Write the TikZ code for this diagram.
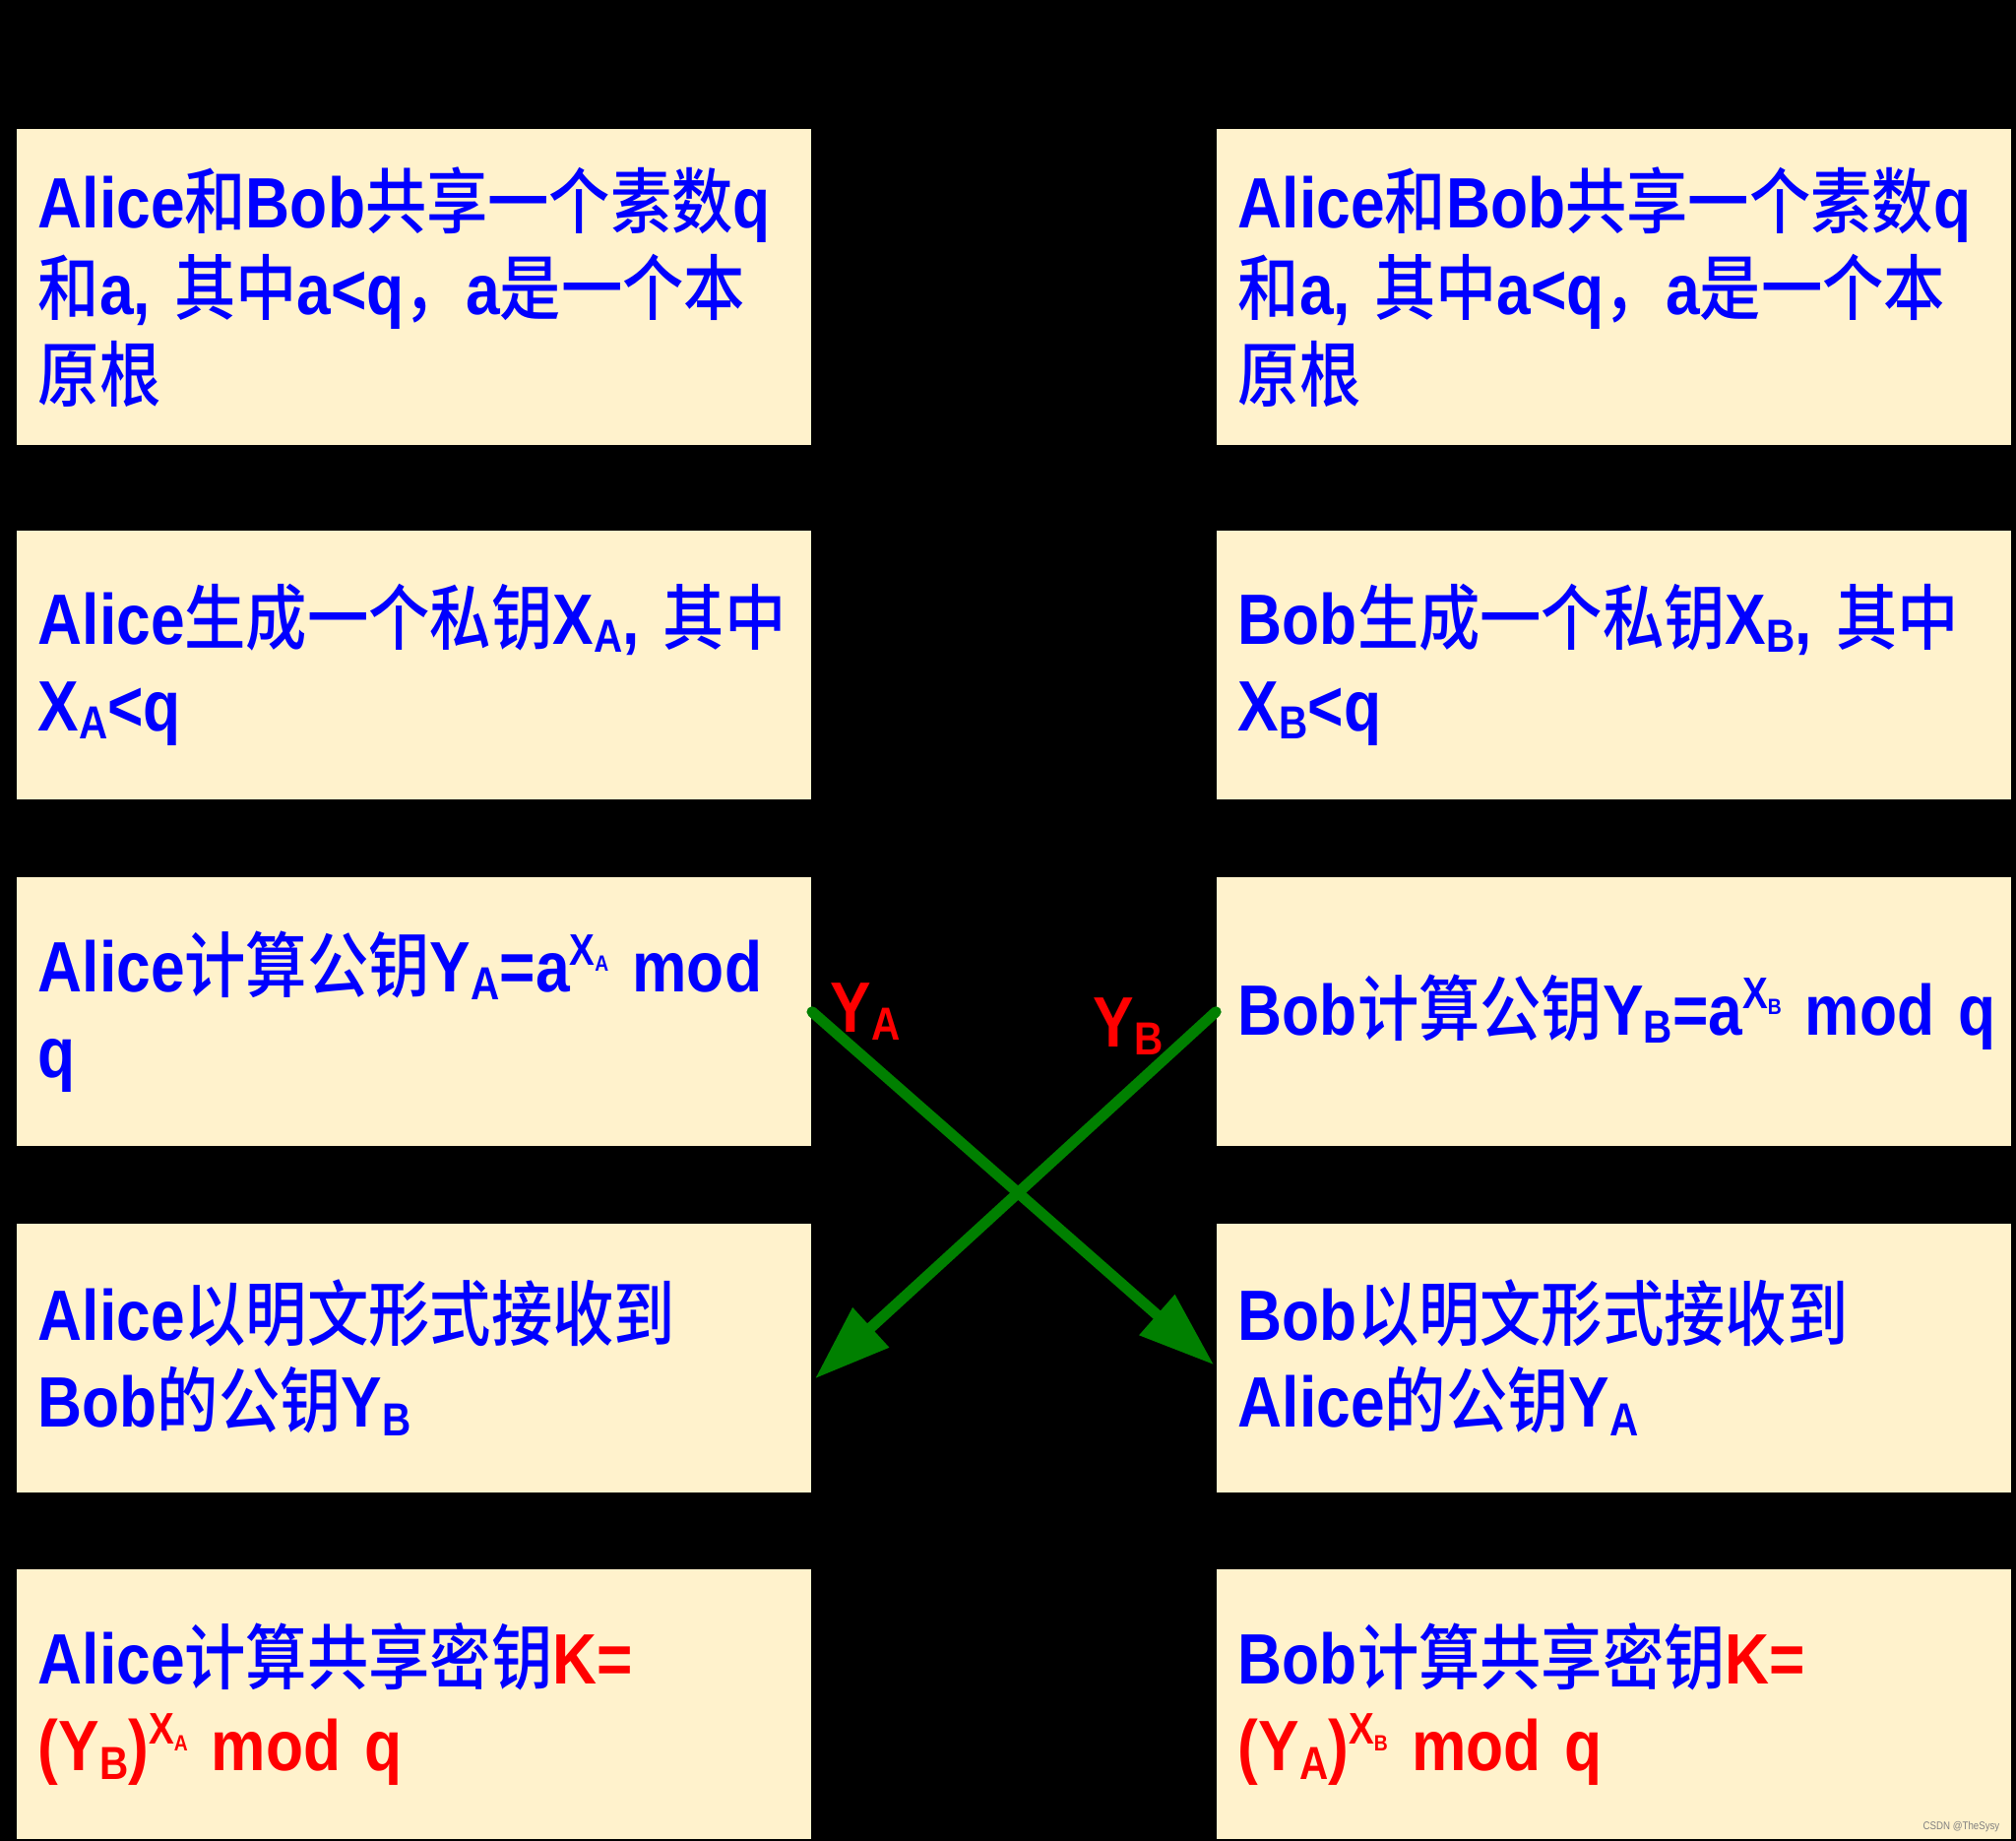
\documentclass[tikz,border=0pt]{standalone}
\usepackage{fontspec}
\usepackage{graphicx}
\usepackage{xcolor}
\usepackage{tikz}
\usetikzlibrary{positioning,calc,arrows.meta}

\setmainfont{Liberation Sans}[FakeStretch=0.86]
\newfontfamily\zhfont{Noto Sans CJK SC}[BoldFont={* Medium},FakeStretch=0.86]
\newcommand\bodyfont{\fontsize{20.6}{25}\selectfont\bfseries\fontdimen2\font=0.17em}
\newcommand\zh[1]{{\zhfont #1}}
\newcommand\dn[1]{\raisebox{-0.12em}{\scalebox{0.65}{#1}}}
\newcommand\up[1]{\raisebox{0.37em}{\scalebox{0.62}{#1}}}
\newcommand\powx[1]{\up{X\raisebox{-0.15em}{\scalebox{0.5}{#1}}}}

\definecolor{boxfill}{HTML}{FFF2CC}
\definecolor{txtblue}{HTML}{0000FF}
\definecolor{keyred}{HTML}{FF0000}
\definecolor{arrgreen}{HTML}{008000}

\tikzset{
  stepcell/.style={rectangle,fill=boxfill,text=txtblue,font=\bodyfont,
    text width=7.63cm,inner xsep=0.22cm,inner ysep=0pt,align=left,
    minimum width=8.07cm,minimum height=2.73cm},
  tallcell/.style={stepcell,minimum height=3.21cm},
  sendarrow/.style={draw=arrgreen,line width=0.11cm,line cap=round,
    -{Triangle[length=0.77cm,width=0.52cm]}},
  keylabel/.style={text=keyred,font=\bodyfont,inner sep=0pt,anchor=base west}
}

\begin{document}
\begin{tikzpicture}[x=0.01cm,y=-0.01cm]
  \useasboundingbox (0,0) rectangle (2048,1870);
  \fill[black] (0,0) rectangle (2048,1870);

  % Alice
  \node[tallcell] (A1) at (420.5,291.5)
    {Alice\zh{和}Bob\zh{共享一个素数}q\\ \zh{和}a,~\zh{其中}a<q\zh{，}a\zh{是一个本}\\ \zh{原根}};
  \node[stepcell] (A2) [below=0.85cm of A1]
    {Alice\zh{生成一个私钥}X\dn{A},~\zh{其中}\\ X\dn{A}<q};
  \node[stepcell] (A3) [below=0.78cm of A2]
    {Alice\zh{计算公钥}Y\dn{A}=a\powx{A}~mod\\ q};
  \node[stepcell] (A4) [below=0.77cm of A3]
    {Alice\zh{以明文形式接收到}\\ Bob\zh{的公钥}Y\dn{B}};
  \node[stepcell] (A5) [below=0.77cm of A4]
    {Alice\zh{计算共享密钥}\textcolor{keyred}{K=}\\ \textcolor{keyred}{(Y\dn{B})\powx{A}~mod~q}};

  % Bob
  \node[tallcell] (B1) [right=4.1cm of A1]
    {Alice\zh{和}Bob\zh{共享一个素数}q\\ \zh{和}a,~\zh{其中}a<q\zh{，}a\zh{是一个本}\\ \zh{原根}};
  \node[stepcell] (B2) [right=4.1cm of A2]
    {Bob\zh{生成一个私钥}X\dn{B},~\zh{其中}\\ X\dn{B}<q};
  \node[stepcell] (B3) [right=4.1cm of A3]
    {Bob\zh{计算公钥}Y\dn{B}=a\powx{B}~mod~q};
  \node[stepcell] (B4) [right=4.1cm of A4]
    {Bob\zh{以明文形式接收到}\\ Alice\zh{的公钥}Y\dn{A}};
  \node[stepcell] (B5) [right=4.1cm of A5]
    {Bob\zh{计算共享密钥}\textcolor{keyred}{K=}\\ \textcolor{keyred}{(Y\dn{A})\powx{B}~mod~q}};

  % exchange of public keys
  \draw[sendarrow] (A3.east) -- ($(B4.west)+(-2,7)$);
  \draw[sendarrow] (B3.west) -- ($(A4.east)+(3,21)$);
  \node[keylabel] (YA) at (843,1048) {Y\dn{A}};
  \node[keylabel] (YB) at (1110,1063) {Y\dn{B}};

  \node[font=\fontsize{3.2}{4}\selectfont,text=gray,inner sep=0pt,anchor=base east]
    (mark) at (2032,1858) {CSDN @TheSysy};
\end{tikzpicture}
\end{document}
